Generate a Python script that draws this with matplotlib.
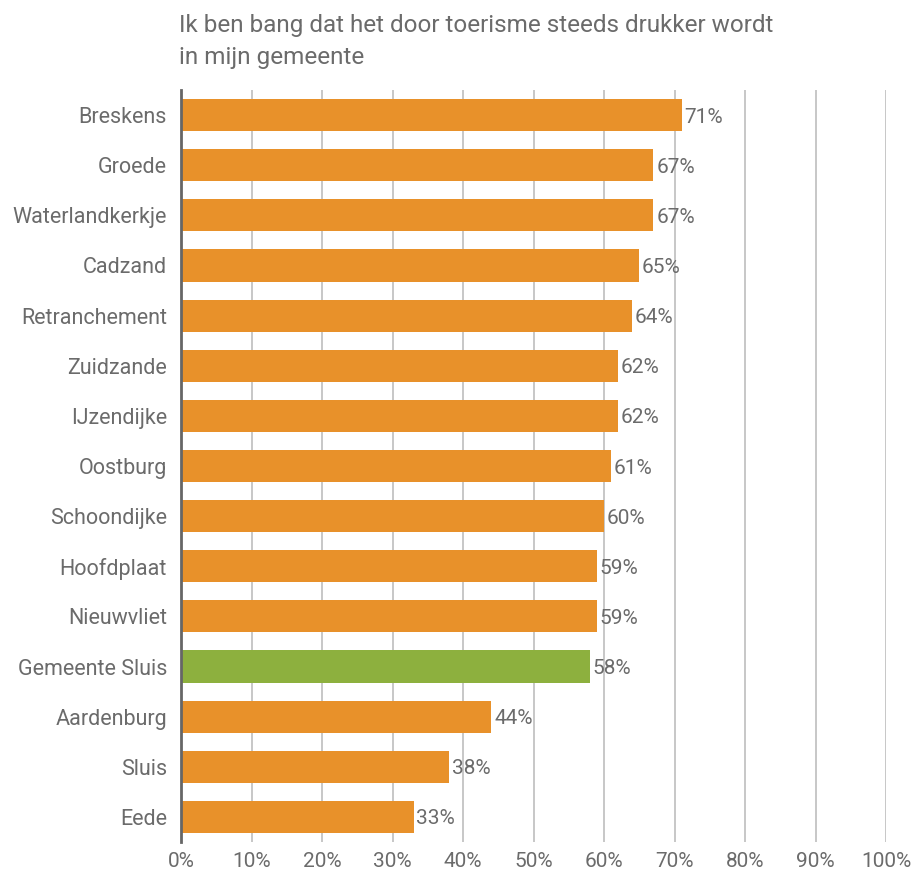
import matplotlib
matplotlib.use("Agg")
import matplotlib.pyplot as plt

categories = ["Breskens", "Groede", "Waterlandkerkje", "Cadzand", "Retranchement",
              "Zuidzande", "IJzendijke", "Oostburg", "Schoondijke", "Hoofdplaat",
              "Nieuwvliet", "Gemeente Sluis", "Aardenburg", "Sluis", "Eede"]
values = [71, 67, 67, 65, 64, 62, 62, 61, 60, 59, 59, 58, 44, 38, 33]
highlight = "Gemeente Sluis"
xticks = [0, 10, 20, 30, 40, 50, 60, 70, 80, 90, 100]
title = "Ik ben bang dat het door toerisme steeds drukker wordt\nin mijn gemeente"

orange = "#E8912A"
green = "#8DB03E"
textc = "#6b6b6b"

plt.rcParams['font.family'] = ['Roboto', 'DejaVu Sans']

fig = plt.figure(figsize=(9.17, 8.76), dpi=100)
ax = fig.add_axes([181/917, 1-842/876, (886-181)/917, (842-90)/876])

ys = list(range(len(categories)))
colors = [green if c == highlight else orange for c in categories]
ax.barh(ys, values, height=0.64, color=colors, zorder=3)
for y, v in zip(ys, values):
    ax.text(v + 0.4, y + 0.04, f"{v}%", va="center", ha="left", fontsize=15, color=textc, zorder=4)

ax.set_ylim(len(categories) - 0.5, -0.5)
ax.set_xlim(0, 100)
ax.set_yticks(ys)
ax.set_yticklabels(categories, fontsize=15.5, color=textc)
ax.set_xticks(xticks)
ax.set_xticklabels([f"{t}%" for t in xticks], fontsize=15, color=textc)
ax.tick_params(axis="both", length=0)
ax.tick_params(axis="y", pad=10)
ax.tick_params(axis="x", pad=7)
ax.xaxis.grid(True, color="#bdbdbd", linewidth=1.2, zorder=0)
for s in ["top", "right", "bottom"]:
    ax.spines[s].set_visible(False)
ax.spines["left"].set_color("#666666")
ax.spines["left"].set_linewidth(2)
ax.spines["left"].set_zorder(5)

fig.text(179/917, 1-14/876, title, ha="left", va="top", fontsize=17.5, color=textc, linespacing=1.5)

fig.savefig("out.png", dpi=100)
